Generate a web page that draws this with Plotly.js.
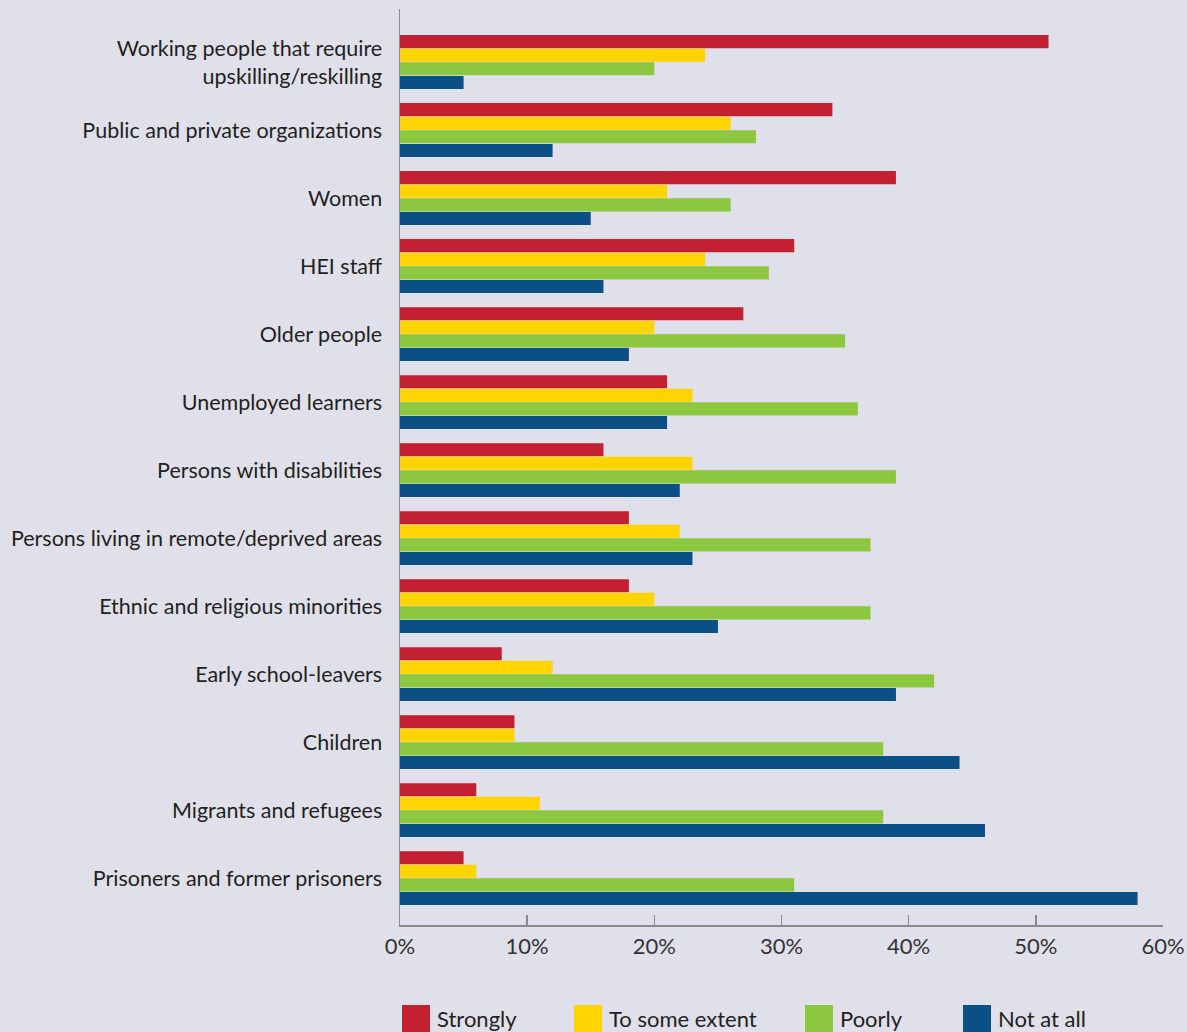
<!DOCTYPE html>
<html>
<head>
<meta charset="utf-8">
<script src="https://cdn.plot.ly/plotly-3.0.1.min.js"></script>
<style>html,body{margin:0;padding:0;background:#e0e0ea;}#chart{width:1187px;height:1032px;}</style>
</head>
<body>
<div id="chart"></div>
<script>
const categories = [
  "Working people that require<br>upskilling/reskilling",
  "Public and private organizations",
  "Women",
  "HEI staff",
  "Older people",
  "Unemployed learners",
  "Persons with disabilities",
  "Persons living in remote/deprived areas",
  "Ethnic and religious minorities",
  "Early school-leavers",
  "Children",
  "Migrants and refugees",
  "Prisoners and former prisoners"
];
const seriesNames = ["Strongly", "To some extent", "Poorly", "Not at all"];
const strongly     = [51, 34, 39, 31, 27, 21, 16, 18, 18, 8, 9, 6, 5];
const toSomeExtent = [24, 26, 21, 24, 20, 23, 23, 22, 20, 12, 9, 11, 6];
const poorly       = [20, 28, 26, 29, 35, 36, 39, 37, 37, 42, 38, 38, 31];
const notAtAll     = [5, 12, 15, 16, 18, 21, 22, 23, 25, 39, 44, 46, 58];
const colors = ["#c32131", "#ffd400", "#8dc63f", "#0a4f85"];
const tickVals = [0, 10, 20, 30, 40, 50, 60];
const tickText = ["0%", "10%", "20%", "30%", "40%", "50%", "60%"];

const seriesValues = [strongly, toSomeExtent, poorly, notAtAll];
const idx = categories.map((c, i) => i);
const traces = seriesValues.map((vals, k) => ({
  type: "bar",
  orientation: "h",
  name: seriesNames[k],
  x: vals,
  y: idx,
  marker: {color: colors[k]},
  hoverinfo: "x+name"
}));

const bg = "#e0e0ea";
const fontFam = "Lato, 'Noto Sans', sans-serif";

// custom legend built from series names and colours
const legendX = [402, 574, 805, 963];
const shapes = [];
const annotations = [];
seriesNames.forEach((n, k) => {
  shapes.push({type: "rect", xref: "paper", yref: "paper",
    x0: (legendX[k] - 400) / 763, x1: (legendX[k] + 28 - 400) / 763,
    y0: (925 - 1040) / 916, y1: (925 - 1005) / 916,
    fillcolor: colors[k], line: {width: 0}});
  annotations.push({xref: "paper", yref: "paper",
    x: (legendX[k] + 33 - 400) / 763, y: (925 - 1018) / 916,
    xanchor: "left", yanchor: "middle", text: n, showarrow: false,
    font: {family: fontFam, size: 22, color: "#231f20"}});
});

const layout = {
  width: 1187, height: 1032,
  paper_bgcolor: bg, plot_bgcolor: bg,
  margin: {l: 400, r: 24, t: 9, b: 107},
  barmode: "group",
  bargap: 0.2,
  bargroupgap: 0.04,
  showlegend: false,
  font: {family: fontFam, color: "#231f20"},
  xaxis: {
    range: [0, 60], tickvals: tickVals, ticktext: tickText,
    showgrid: false, zeroline: false,
    showline: true, linecolor: "#8a8a8a", linewidth: 1.5,
    ticks: "inside", ticklen: 10, tickcolor: "#8a8a8a", tickwidth: 1.5,
    tickfont: {family: fontFam, size: 22, color: "#333"},
    ticklabelstandoff: 1,
    fixedrange: true
  },
  yaxis: {
    type: "linear",
    range: [12.69, -0.78],
    tickvals: idx, ticktext: categories,
    showgrid: false, zeroline: false,
    showline: true, linecolor: "#8a8a8a", linewidth: 1.5,
    ticks: "", ticklabelstandoff: 12,
    tickfont: {family: fontFam, size: 21.5, color: "#231f20"},
    fixedrange: true
  },
  shapes: shapes,
  annotations: annotations
};

Plotly.newPlot("chart", traces, layout, {displayModeBar: false, staticPlot: true});
</script>
</body>
</html>
